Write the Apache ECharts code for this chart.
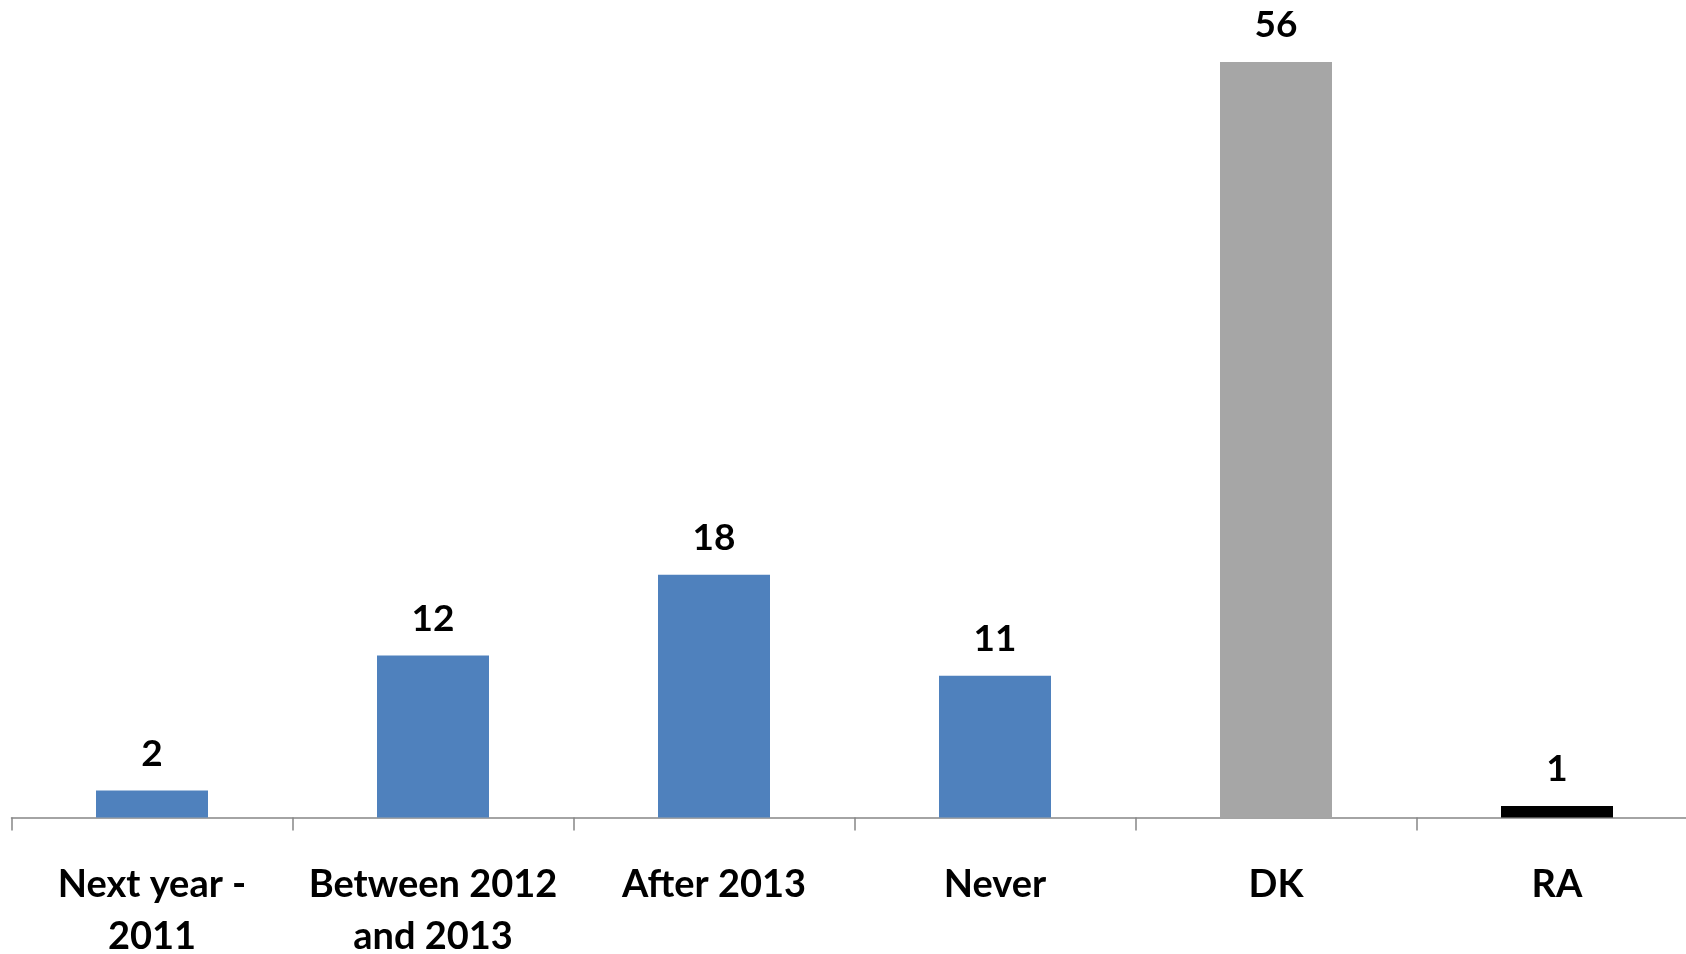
<!DOCTYPE html>
<html>
<head>
<meta charset="utf-8">
<script src="https://cdn.jsdelivr.net/npm/echarts@6/dist/echarts.min.js"></script>
<style>
  html, body { margin: 0; padding: 0; background: #fff; }
  #chart { width: 1686px; height: 954px; }
</style>
</head>
<body>
<div id="chart"></div>
<script>
// bar heights; labels show them rounded
const categories = ['Next year -\n2011', 'Between 2012\nand 2013', 'After 2013', 'Never', 'DK', 'RA']
const values = [2, 12, 18, 10.5, 56, 0.85]
const barColors = ['#4F81BD', '#4F81BD', '#4F81BD', '#4F81BD', '#A6A6A6', '#000000']

const FONT = 'Lato, "Open Sans", sans-serif'

const chart = echarts.init(document.getElementById('chart'))
chart.setOption({
  animation: false,
  backgroundColor: '#fff',
  grid: {
    left: 11.5, top: 62, width: 1686, height: 755.5,
    containLabel: false, outerBoundsMode: 'none',
  },
  xAxis: {
    type: 'category',
    data: categories,
    axisLine: { lineStyle: { color: '#868686', width: 1.5 } },
    axisTick: { show: true, length: 13, lineStyle: { color: '#868686', width: 1.5 } },
    axisLabel: {
      interval: 0,
      margin: 41,
      color: '#000',
      fontFamily: FONT,
      fontWeight: 'bold',
      fontSize: 38,
      lineHeight: 52,
    },
  },
  yAxis: {
    type: 'value',
    min: 0,
    max: 56,
    show: false,
    splitLine: { show: false },
  },
  series: [{
    type: 'bar',
    barWidth: 112,
    data: values.map((v, i) => ({ value: v, itemStyle: { color: barColors[i] } })),
    label: {
      show: true,
      position: 'top',
      distance: 18,
      color: '#000',
      fontFamily: FONT,
      fontWeight: 'bold',
      fontSize: 37,
      formatter: (p) => String(Math.round(p.value)),
    },
  }],
})
</script>
</body>
</html>
